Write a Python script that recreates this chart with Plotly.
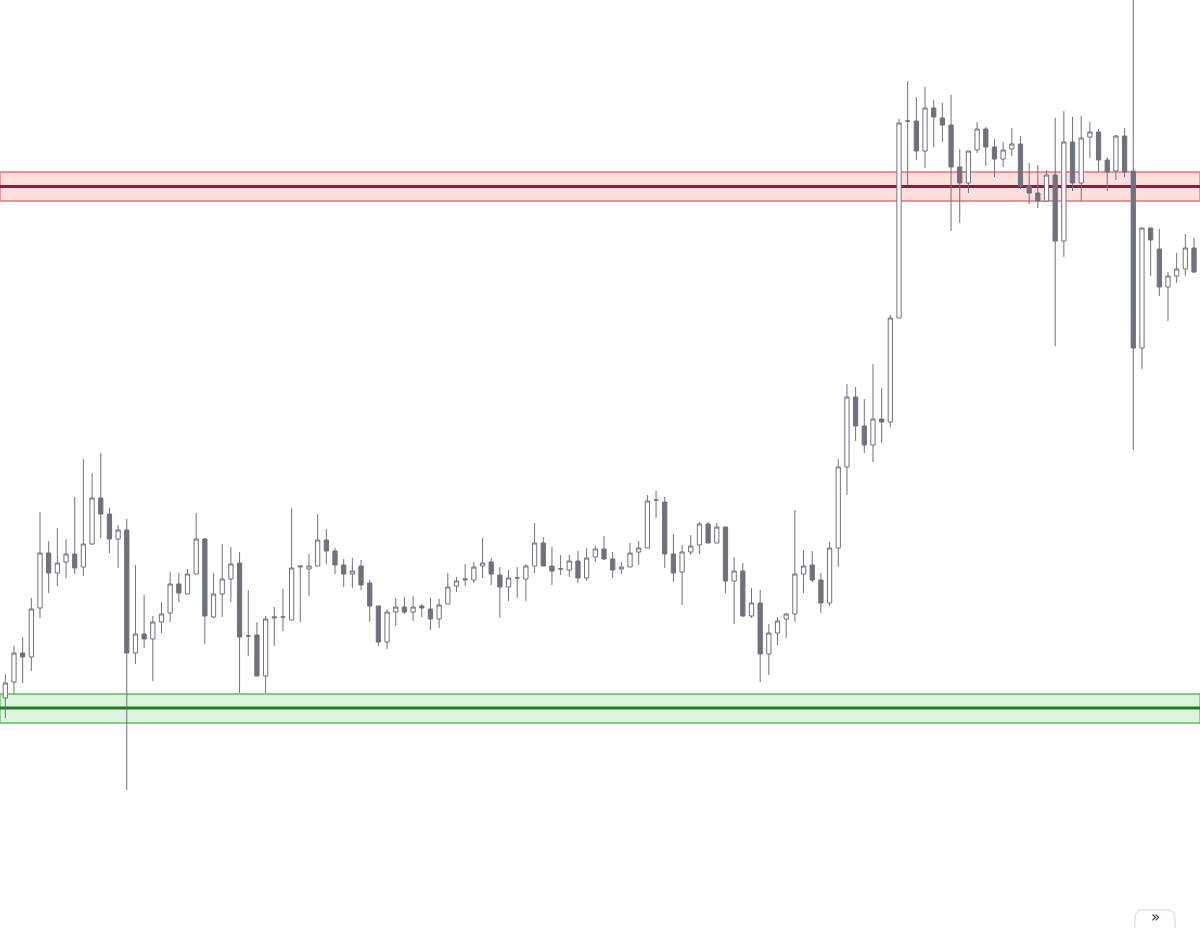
import plotly.graph_objects as go

# OHLC values (price units)
opens = [302,318,347,343,392,447,427,438,446,433,456,502,486,461,470,347,366,361,378,387,
         416,406,426,461,383,406,421,437,364,365,324,382,383,380,433,431,434,460,449,435,
         426,434,417,394,358,388,393,388,394,391,381,396,414,420,420,434,438,425,413,422,
         421,434,457,434,431,430,439,422,443,451,441,431,433,448,452,500,498,446,428,448,
         455,476,457,473,419,429,384,397,346,367,381,386,426,435,420,397,452,533,603,574,
         555,581,578,682,879,879,849,892,882,875,833,817,850,871,853,841,851,856,814,807,
         799,825,759,858,817,863,868,840,829,864,829,652,772,751,713,724,731,752,729]
highs = [326,354,363,402,488,459,472,461,503,541,527,547,492,475,481,435,405,384,398,428,
         427,431,487,462,427,456,453,448,410,378,384,393,411,492,434,446,486,471,452,441,
         442,440,420,394,391,402,403,404,396,402,401,427,423,436,438,462,442,433,430,433,
         436,477,463,453,445,445,449,452,454,464,448,438,457,459,505,509,503,466,455,465,
         478,478,477,473,443,437,412,410,376,383,387,490,450,449,427,458,541,616,613,601,
         636,612,685,881,919,903,913,900,897,905,851,849,878,873,861,858,872,864,837,835,
         830,882,889,883,884,878,871,843,865,872,1020,772,772,771,728,747,766,762,740]
lows = [282,306,317,329,382,407,414,422,426,424,455,462,447,432,210,336,352,319,367,378,
        398,406,426,356,382,383,398,307,344,324,307,354,369,380,378,404,434,436,426,413,
        412,410,378,354,351,374,386,379,383,370,372,396,408,414,417,422,415,382,399,402,
        399,427,434,415,425,423,417,419,438,440,422,426,433,435,452,482,432,418,395,445,
        446,457,457,407,376,383,382,318,325,355,362,378,407,418,387,394,433,505,559,547,
        538,557,573,682,815,840,832,853,858,769,777,807,847,834,823,833,844,811,796,792,
        798,654,743,809,799,842,828,809,820,823,550,631,724,704,679,717,724,727,726]
closes = [317,347,343,391,447,427,437,446,432,456,502,486,461,470,347,366,361,378,386,416,
          407,426,461,384,406,421,436,363,364,324,381,383,383,432,434,434,460,449,435,426,
          429,415,394,358,388,393,388,393,392,381,395,413,419,421,433,437,426,413,422,422,
          434,457,434,429,431,439,422,442,451,441,430,433,447,452,499,500,446,427,448,454,
          476,457,473,419,429,384,397,346,367,379,386,426,434,420,397,452,533,603,574,555,
          581,578,682,877,879,849,892,883,875,833,817,849,871,853,841,850,856,814,807,799,
          825,759,858,817,862,868,840,828,864,828,652,772,760,713,724,731,752,728,734]

# horizontal zones: (lower edge, centre line, upper edge)
resistance_zone = [799, 813.5, 828]
support_zone = [277, 292, 306]

idx = list(range(len(opens)))

candle_gray = "#6f717d"

fig = go.Figure()
fig.add_trace(go.Candlestick(
    x=idx, open=opens, high=highs, low=lows, close=closes,
    increasing=dict(line=dict(color=candle_gray, width=1), fillcolor="#ffffff"),
    decreasing=dict(line=dict(color=candle_gray, width=1), fillcolor=candle_gray),
    showlegend=False, hoverinfo="skip",
))

shapes = []
# resistance zone (red)
shapes.append(dict(type="rect", xref="paper", yref="y", x0=0, x1=1,
                   y0=resistance_zone[0], y1=resistance_zone[2],
                   fillcolor="rgba(255,90,90,0.2)", line=dict(color="#f07070", width=1.3),
                   layer="below"))
shapes.append(dict(type="line", xref="paper", yref="y", x0=0, x1=1,
                   y0=resistance_zone[1], y1=resistance_zone[1],
                   line=dict(color="#8a1c46", width=3), layer="below"))
# support zone (green)
shapes.append(dict(type="rect", xref="paper", yref="y", x0=0, x1=1,
                   y0=support_zone[0], y1=support_zone[2],
                   fillcolor="rgba(90,200,90,0.2)", line=dict(color="#5cbf5c", width=1.3),
                   layer="below"))
shapes.append(dict(type="line", xref="paper", yref="y", x0=0, x1=1,
                   y0=support_zone[1], y1=support_zone[1],
                   line=dict(color="#1f7a22", width=3), layer="below"))
# scroll-to-realtime button (partially visible at the bottom edge)
shapes.append(dict(type="path", xref="paper", yref="paper",
                   path="M 0.9458 -0.03 L 0.9458 0.0108 Q 0.9458 0.0194 0.953 0.0194 "
                        "L 0.9717 0.0194 Q 0.9792 0.0194 0.9792 0.0108 L 0.9792 -0.03 Z",
                   fillcolor="#ffffff", line=dict(color="#e3e3e6", width=1.5), layer="above"))

fig.update_layout(
    width=1200, height=928,
    margin=dict(l=0, r=0, t=0, b=0),
    paper_bgcolor="#ffffff", plot_bgcolor="#ffffff",
    xaxis=dict(range=[-0.611, 137.69], visible=False, rangeslider=dict(visible=False),
               showgrid=False, fixedrange=True),
    yaxis=dict(range=[72, 1000], visible=False, showgrid=False, fixedrange=True),
    shapes=shapes,
    annotations=[dict(xref="paper", yref="paper", x=0.9625, y=0.0, text="»",
                      showarrow=False, font=dict(size=15, color="#2a2e39", family="DejaVu Sans"),
                      xanchor="center", yanchor="bottom")],
)

fig.write_html("out.html", config={"displayModeBar": False},
               post_script="document.body.style.margin='0';")
